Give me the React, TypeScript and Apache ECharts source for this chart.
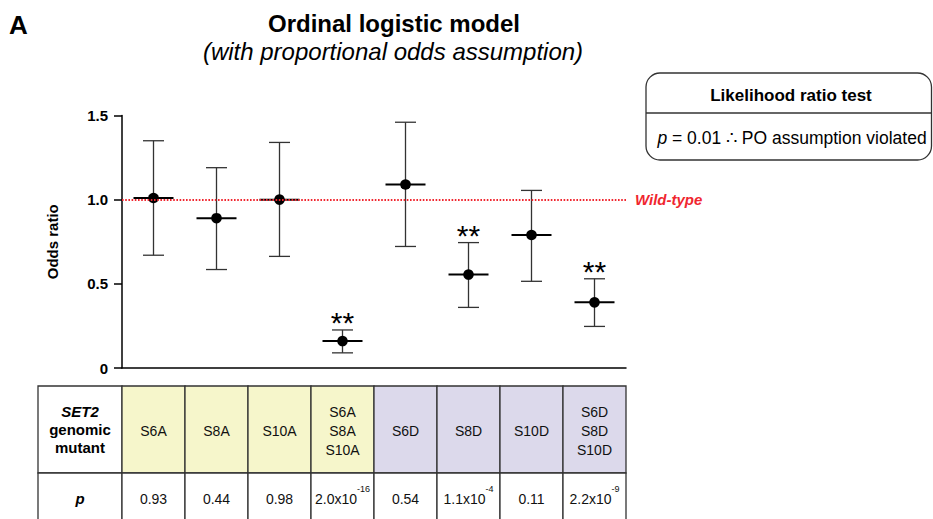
import React, { useEffect, useRef } from 'react';
import * as echarts from 'echarts';

// ---- Data ----
const mutants = ['S6A', 'S8A', 'S10A', 'S6A S8A S10A', 'S6D', 'S8D', 'S10D', 'S6D S8D S10D'];
const headerLabels = ['S6A', 'S8A', 'S10A', 'S6A\nS8A\nS10A', 'S6D', 'S8D', 'S10D', 'S6D\nS8D\nS10D'];
const groups = ['A', 'A', 'A', 'A', 'D', 'D', 'D', 'D'];
const oddsRatio = [1.01, 0.89, 1.0, 0.16, 1.09, 0.555, 0.79, 0.39];
const ciLow = [0.67, 0.585, 0.663, 0.09, 0.722, 0.36, 0.515, 0.247];
const ciHigh = [1.35, 1.19, 1.34, 0.226, 1.46, 0.745, 1.055, 0.53];
const significant = [false, false, false, true, false, true, false, true];
const pMantissa = ['0.93', '0.44', '0.98', '2.0x10', '0.54', '1.1x10', '0.11', '2.2x10'];
const pExponent = ['', '', '', '-16', '', '-4', '', '-9'];
const tableRows = [0, 1];
const wildTypeRatio = 1.0;
const lrtP = '0.01';

const FONT = '"Liberation Sans", Arial, Helvetica, sans-serif';
const YELLOW = '#f6f6cb';
const PURPLE = '#dcd9eb';
const LINE = '#333';
const RED = '#f0262f';

export default function App() {
  const ref = useRef<HTMLDivElement>(null);

  useEffect(() => {
    if (!ref.current) return;
    const chart = echarts.init(ref.current, null, { renderer: 'svg' });

    const option: any = {
      animation: false,
      backgroundColor: '#fff',
      textStyle: { fontFamily: FONT },
      grid: [
        { left: 122, top: 115.5, width: 504, height: 252.5 },
        { left: 122, top: 386, width: 504, height: 87 },
      ],
      xAxis: [
        {
          type: 'category',
          gridIndex: 0,
          data: mutants,
          axisLine: { show: true, lineStyle: { color: '#000', width: 1.5 } },
          axisTick: { show: false },
          axisLabel: { show: false },
          splitLine: { show: false },
        },
        {
          type: 'category',
          gridIndex: 1,
          data: mutants,
          show: false,
        },
      ],
      yAxis: [
        {
          type: 'value',
          gridIndex: 0,
          min: 0,
          max: 1.5,
          interval: 0.5,
          name: 'Odds ratio',
          nameLocation: 'middle',
          nameGap: 62,
          nameTextStyle: { fontSize: 15, fontWeight: 'bold', color: '#000', fontFamily: FONT },
          axisLine: { show: true, lineStyle: { color: '#000', width: 1.5 } },
          axisTick: { show: true, inside: false, length: 8, lineStyle: { color: '#000', width: 1.5 } },
          axisLabel: {
            margin: 14,
            fontSize: 15,
            fontWeight: 'bold',
            color: '#000',
            fontFamily: FONT,
            formatter: (v: number) => (v === 0 ? '0' : v.toFixed(1)),
          },
          splitLine: { show: false },
        },
        {
          type: 'value',
          gridIndex: 1,
          min: 0,
          max: 1,
          inverse: true,
          show: false,
        },
      ],
      series: [
        {
          type: 'custom',
          xAxisIndex: 0,
          yAxisIndex: 0,
          data: mutants.map((m, i) => [i, oddsRatio[i], ciLow[i], ciHigh[i], significant[i] ? 1 : 0]),
          encode: { x: 0, y: [1, 2, 3] },
          renderItem: (params: any, api: any) => {
            const i = api.value(0);
            const c = api.coord([i, api.value(1)]);
            const yl = api.coord([i, api.value(2)])[1];
            const yh = api.coord([i, api.value(3)])[1];
            const cx = c[0];
            const cy = c[1];
            const s = { stroke: LINE, lineWidth: 1.3 };
            const children: any[] = [
              { type: 'line', shape: { x1: cx, y1: yh, x2: cx, y2: yl }, style: s },
              { type: 'line', shape: { x1: cx - 10.5, y1: yh, x2: cx + 10.5, y2: yh }, style: s },
              { type: 'line', shape: { x1: cx - 10.5, y1: yl, x2: cx + 10.5, y2: yl }, style: s },
              { type: 'line', shape: { x1: cx - 20, y1: cy, x2: cx + 20, y2: cy }, style: { stroke: '#000', lineWidth: 2 } },
              { type: 'circle', shape: { cx, cy, r: 5.3 }, style: { fill: '#000' } },
            ];
            if (api.value(4)) {
              children.push({
                type: 'text',
                x: cx,
                y: yh - 7,
                style: { text: '**', fontSize: 30, fontFamily: FONT, fill: '#000', align: 'center', verticalAlign: 'middle' },
              });
            }
            return { type: 'group', children };
          },
          markLine: {
            silent: true,
            symbol: 'none',
            data: [{ yAxis: wildTypeRatio }],
            lineStyle: { color: RED, type: [1.6, 1.6], width: 1.8 },
            label: {
              show: true,
              position: 'end',
              formatter: 'Wild-type',
              color: RED,
              fontWeight: 'bold',
              fontStyle: 'italic',
              fontSize: 15,
              fontFamily: FONT,
              distance: 9,
            },
          },
          z: 3,
        },
        {
          type: 'custom',
          xAxisIndex: 1,
          yAxisIndex: 1,
          data: mutants.flatMap((m, i) => tableRows.map((r) => [i, r])),
          encode: { x: 0, y: 1 },
          renderItem: (params: any, api: any) => {
            const i = api.value(0);
            const row = api.value(1);
            const p = api.coord([i, row]);
            const bw = api.size([1, 0])[0];
            const rh = Math.abs(api.size([0, 1])[1]);
            const cx = p[0];
            const top = p[1];
            const fill = row === 0 ? (groups[i] === 'A' ? YELLOW : PURPLE) : '#fff';
            const children: any[] = [
              {
                type: 'rect',
                shape: { x: cx - bw / 2, y: top, width: bw, height: rh },
                style: { fill, stroke: LINE, lineWidth: 1.3 },
              },
            ];
            if (row === 0) {
              children.push({
                type: 'text',
                x: cx,
                y: top + rh / 2 + 1,
                style: {
                  text: headerLabels[i],
                  fontSize: 14,
                  lineHeight: 19,
                  fontFamily: FONT,
                  fill: '#111',
                  align: 'center',
                  verticalAlign: 'middle',
                },
              });
            } else {
              const txt = pExponent[i] ? `{b|${pMantissa[i]}}{s|${pExponent[i]}}` : `{b|${pMantissa[i]}}`;
              children.push({
                type: 'text',
                x: cx,
                y: top + 25.5,
                style: {
                  text: txt,
                  fontFamily: FONT,
                  fill: '#111',
                  align: 'center',
                  verticalAlign: 'middle',
                  rich: {
                    b: { fontSize: 14, lineHeight: 28, fontFamily: FONT, fill: '#111' },
                    s: { fontSize: 9, lineHeight: 9, verticalAlign: 'top', fontFamily: FONT, fill: '#111' },
                  },
                },
              });
            }
            return { type: 'group', children };
          },
          z: 2,
        },
      ],
      graphic: [
        { type: 'text', left: 9, top: 12, style: { text: 'A', fontSize: 26, fontWeight: 'bold', fontFamily: FONT, fill: '#000' } },
        {
          type: 'text',
          x: 394,
          y: 23.3,
          style: { text: 'Ordinal logistic model', fontSize: 24, fontWeight: 'bold', fontFamily: FONT, fill: '#000', align: 'center', verticalAlign: 'middle' },
        },
        {
          type: 'text',
          x: 393,
          y: 51,
          style: { text: '(with proportional odds assumption)', fontSize: 24, fontStyle: 'italic', fontFamily: FONT, fill: '#000', align: 'center', verticalAlign: 'middle' },
        },
        // Likelihood ratio test box
        {
          type: 'rect',
          shape: { x: 646, y: 73, width: 285.5, height: 87, r: 14 },
          style: { fill: 'none', stroke: LINE, lineWidth: 1.3 },
        },
        {
          type: 'line',
          shape: { x1: 646, y1: 113, x2: 931.5, y2: 113 },
          style: { stroke: LINE, lineWidth: 1.3 },
        },
        {
          type: 'text',
          x: 791,
          y: 95,
          style: { text: 'Likelihood ratio test', fontSize: 17, fontWeight: 'bold', fontFamily: FONT, fill: '#000', align: 'center', verticalAlign: 'middle' },
        },
        {
          type: 'text',
          x: 792,
          y: 138,
          style: {
            text: `{i|p} {r|= ${lrtP} ∴ PO assumption violated}`,
            fontFamily: FONT,
            fontSize: 17.5,
            fill: '#000',
            align: 'center',
            verticalAlign: 'middle',
            rich: {
              i: { fontSize: 17.5, fontStyle: 'italic', fontFamily: FONT, fill: '#000' },
              r: { fontSize: 17.5, fontFamily: FONT, fill: '#000' },
            },
          },
        },
        // Table first column
        {
          type: 'rect',
          shape: { x: 38, y: 386, width: 84, height: 87 },
          style: { fill: '#fff', stroke: LINE, lineWidth: 1.3 },
        },
        {
          type: 'rect',
          shape: { x: 38, y: 473, width: 84, height: 87 },
          style: { fill: '#fff', stroke: LINE, lineWidth: 1.3 },
        },
        {
          type: 'text',
          x: 80,
          y: 429,
          style: {
            text: '{bi|SET2}\n{b|genomic}\n{b|mutant}',
            align: 'center',
            verticalAlign: 'middle',
            fontFamily: FONT,
            rich: {
              bi: { fontSize: 15, lineHeight: 18, fontWeight: 'bold', fontStyle: 'italic', fontFamily: FONT, fill: '#000', align: 'center' },
              b: { fontSize: 15, lineHeight: 18, fontWeight: 'bold', fontFamily: FONT, fill: '#000', align: 'center' },
            },
          },
        },
        {
          type: 'text',
          x: 80,
          y: 498.5,
          style: { text: 'p', fontSize: 15, fontWeight: 'bold', fontStyle: 'italic', fontFamily: FONT, fill: '#000', align: 'center', verticalAlign: 'middle' },
        },
      ],
    };

    chart.setOption(option);
    return () => chart.dispose();
  }, []);

  return <div ref={ref} style={{ position: 'absolute', left: 0, top: 0, width: 933, height: 519 }} />;
}
